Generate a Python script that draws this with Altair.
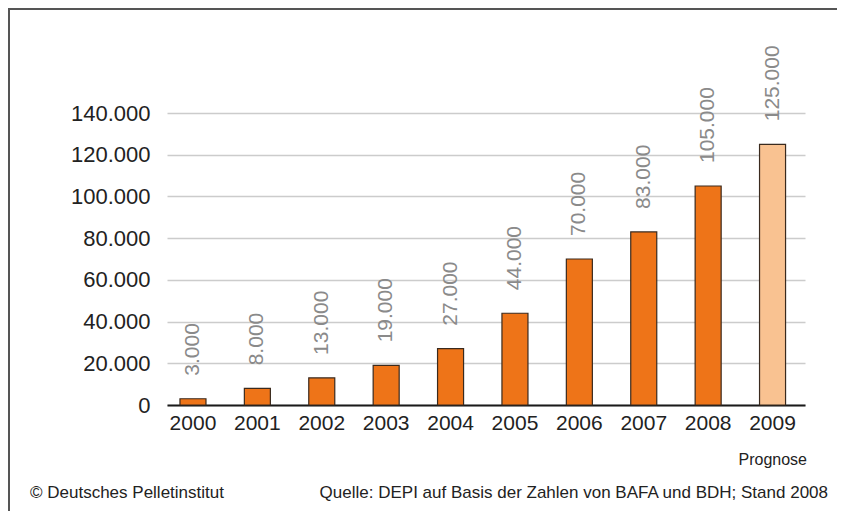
import altair as alt
import pandas as pd

years = ["2000", "2001", "2002", "2003", "2004", "2005", "2006", "2007", "2008", "2009"]
values = [3000, 8000, 13000, 19000, 27000, 44000, 70000, 83000, 105000, 125000]
kinds = ["Ist", "Ist", "Ist", "Ist", "Ist", "Ist", "Ist", "Ist", "Ist", "Prognose"]
y_ticks = [0, 20000, 40000, 60000, 80000, 100000, 120000, 140000]

note_prognose = "Prognose"
footer_left = "© Deutsches Pelletinstitut"
footer_right = "Quelle: DEPI auf Basis der Zahlen von BAFA und BDH; Stand 2008"

df = pd.DataFrame({
    "Jahr": years,
    "Wert": values,
    "Art": kinds,
    "Label": [f"{v:,}".replace(",", ".") for v in values],
})

FONT = "Liberation Sans"
W, H = 638, 292

x_enc = alt.X(
    "Jahr:N",
    sort=years,
    scale=alt.Scale(paddingInner=0.596, paddingOuter=0.2516, align=0.4),
    axis=alt.Axis(
        title=None, labelAngle=0, labelFontSize=21, labelFont=FONT, labelColor="#222222",
        ticks=False, labelPadding=7, domainColor="#1a1a1a", domainWidth=2, grid=False,
    ),
)
y_enc = alt.Y(
    "Wert:Q",
    scale=alt.Scale(domain=[0, 140000], nice=False),
    axis=alt.Axis(
        title=None, values=y_ticks, labelFontSize=22, labelFont=FONT, labelColor="#222222",
        ticks=False, domain=False, labelPadding=17, gridColor="#cccccc", gridWidth=1.5,
        labelExpr="replace(format(datum.value, ','), ',', '.')",
    ),
)

base = alt.Chart(df)

bars = base.mark_bar(stroke="#3a2a1e", strokeWidth=1.2).encode(
    x=x_enc,
    y=y_enc,
    color=alt.Color("Art:N", scale=alt.Scale(domain=["Ist", "Prognose"], range=["#EE7418", "#F9C291"]), legend=None),
)

labels = base.mark_text(
    angle=270, align="left", baseline="middle", dx=23, fontSize=21, font=FONT, color="#8a8a8a",
).encode(
    x=alt.X("Jahr:N", sort=years),
    y="Wert:Q",
    text="Label:N",
)

txt = pd.DataFrame({"t": [note_prognose, footer_left, footer_right]})

prog = alt.Chart(txt.iloc[[0]]).mark_text(
    align="right", baseline="middle", fontSize=16, font=FONT, color="#222222",
).encode(x=alt.value(640), y=alt.value(347), text="t:N")

foot_l = alt.Chart(txt.iloc[[1]]).mark_text(
    align="left", baseline="middle", fontSize=17, font=FONT, color="#222222",
).encode(x=alt.value(-137), y=alt.value(380), text="t:N")

foot_r = alt.Chart(txt.iloc[[2]]).mark_text(
    align="right", baseline="middle", fontSize=17, font=FONT, color="#222222",
).encode(x=alt.value(661), y=alt.value(380), text="t:N")

border_left = alt.Chart(txt.iloc[[0]]).mark_rule(color="#555555", strokeWidth=2).encode(
    x=alt.value(-158), y=alt.value(-104), y2=alt.value(400)
)
border_top = alt.Chart(txt.iloc[[0]]).mark_rule(color="#555555", strokeWidth=2).encode(
    x=alt.value(-159), x2=alt.value(672), y=alt.value(-104)
)

chart = alt.layer(bars, labels, prog, foot_l, foot_r, border_left, border_top).properties(
    width=W,
    height=H,
    autosize=alt.AutoSizeParams(type="none"),
    padding={"left": 159, "top": 105, "right": 32, "bottom": 106},
).configure_view(stroke=None)

chart.save("out.html", embed_options={"renderer": "svg", "actions": False})
